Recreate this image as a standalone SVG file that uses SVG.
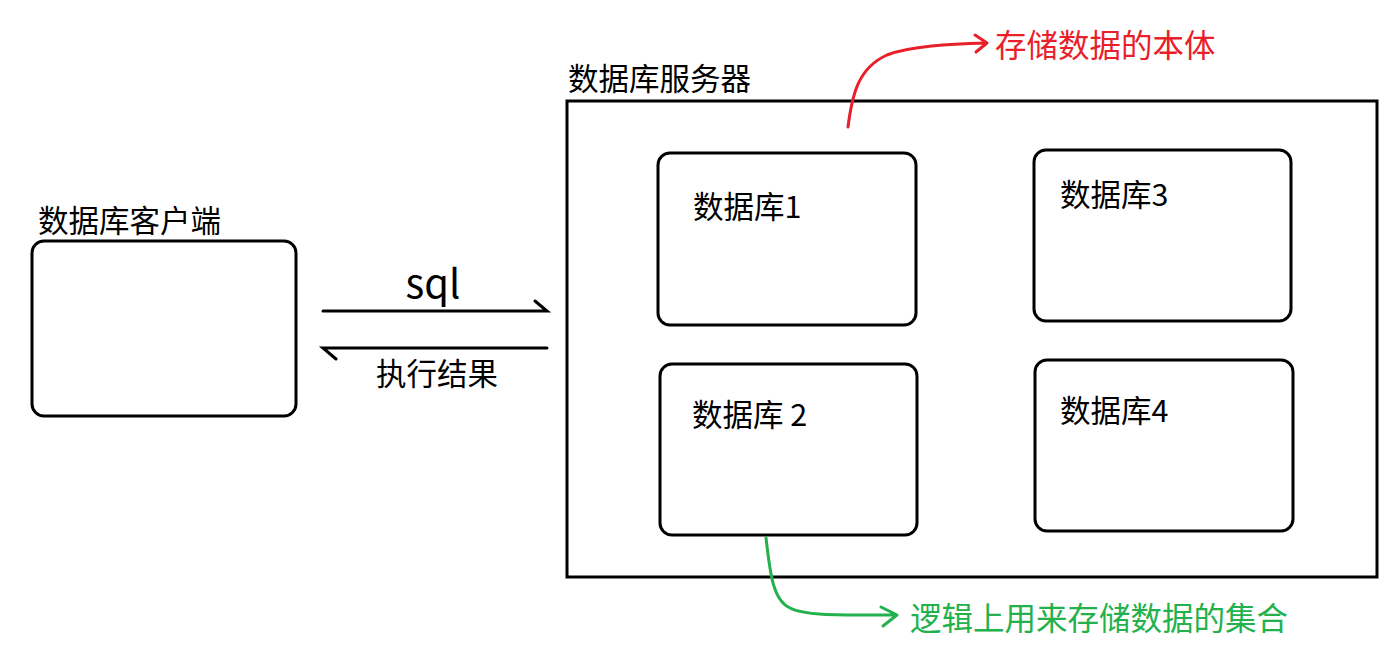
<svg xmlns="http://www.w3.org/2000/svg" width="1400" height="667" viewBox="0 0 1400 667">
<style>
.box{fill:#fff;stroke:#000;stroke-width:3}
.t{font-family:"Noto Sans CJK SC","Microsoft YaHei",sans-serif;font-size:30.5px;fill:#000}
.ln{fill:none;stroke:#000;stroke-width:3;stroke-linecap:round}
.red{fill:none;stroke:#e8202a;stroke-width:3;stroke-linecap:round;stroke-linejoin:round}
.grn{fill:none;stroke:#22b14c;stroke-width:3;stroke-linecap:round;stroke-linejoin:round}
</style>
<rect width="1400" height="667" fill="#fff"/>
<g id="client">
<rect class="box" x="32" y="241" width="264" height="175" rx="12"/>
<text class="t" x="38" y="232">数据库客户端</text>
</g>
<g id="server">
<rect class="box" x="567" y="101" width="810" height="476"/>
<text class="t" x="568" y="90">数据库服务器</text>
</g>
<g id="db1">
<rect class="box" x="658" y="153" width="258" height="172" rx="12"/>
<text class="t" x="693" y="218">数据库1</text>
</g>
<g id="db3">
<rect class="box" x="1034" y="150" width="257" height="171" rx="12"/>
<text class="t" x="1060" y="206">数据库3</text>
</g>
<g id="db2">
<rect class="box" x="660" y="364" width="257" height="171" rx="12"/>
<text class="t" x="692" y="426">数据库 2</text>
</g>
<g id="db4">
<rect class="box" x="1035" y="360" width="258" height="171" rx="12"/>
<text class="t" x="1060" y="422">数据库4</text>
</g>
<g id="connectors">
<path class="ln" d="M323 311 H547 L535 301"/>
<text class="t" x="433" y="298" text-anchor="middle" style="font-size:40px">sql</text>
<path class="ln" d="M547 348 H323 L336 359"/>
<text class="t" x="376" y="385">执行结果</text>
<path class="red" d="M848 127 C852 95 858 68 887 55 C910 46 950 44 986 43 M975 35 L987 43 L976 52"/>
<text class="t" x="995" y="57" style="fill:#e8202a;font-size:31.5px">存储数据的本体</text>
<path class="grn" d="M766 538 C770 570 772 600 790 608 C805 616 840 615 896 615 M881 607 L897 615 L883 626"/>
<text class="t" x="910" y="630" style="fill:#22b14c;font-size:31.5px">逻辑上用来存储数据的集合</text>
</g>
</svg>
